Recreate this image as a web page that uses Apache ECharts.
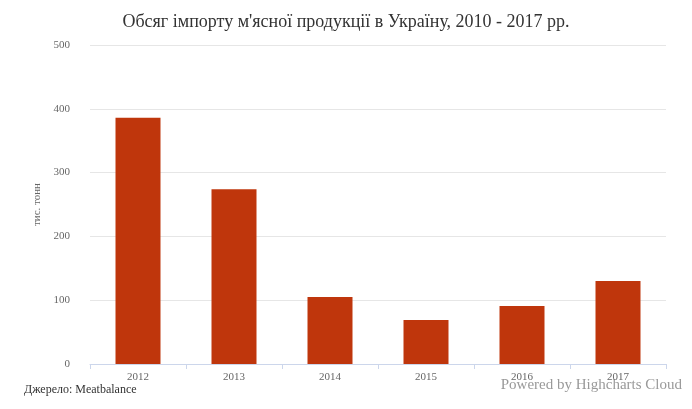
<!DOCTYPE html>
<html><head><meta charset="utf-8">
<script src="https://cdn.jsdelivr.net/npm/echarts@6/dist/echarts.min.js"></script>
<style>html,body{margin:0;padding:0;background:#fff}#c{width:692px;height:409px}</style>
</head><body><div id="c"></div>
<script>
const categories = ['2012','2013','2014','2015','2016','2017'];
const values = [386, 274, 105, 69, 91, 130];
const yTicks = [0,100,200,300,400,500];
const chart = echarts.init(document.getElementById('c'));
chart.setOption({
  animation:false,
  title:{text:"Обсяг імпорту м'ясної продукції в Україну, 2010 - 2017 рр.",left:'center',top:8,
    textStyle:{fontFamily:'Liberation Serif',fontSize:18,fontWeight:'normal',color:'#333'}},
  grid:{left:90,right:26,top:45,bottom:45},
  xAxis:{type:'category',data:categories,
    axisLine:{lineStyle:{color:'#ccd6eb'}},axisTick:{show:true,alignWithLabel:false,lineStyle:{color:'#ccd6eb'}},
    axisLabel:{fontFamily:'Liberation Serif',fontSize:11,color:'#666',margin:8}},
  yAxis:{type:'value',min:yTicks[0],max:yTicks[yTicks.length-1],interval:100,
    name:'тис. тонн',nameLocation:'middle',nameGap:46,nameRotate:90,
    nameTextStyle:{fontFamily:'Liberation Serif',fontSize:11,color:'#666'},
    axisLabel:{fontFamily:'Liberation Serif',fontSize:11,color:'#666',margin:20},
    splitLine:{lineStyle:{color:'#e6e6e6'}},axisLine:{show:false},axisTick:{show:false}},
  series:[{type:'bar',data:values,barWidth:45,itemStyle:{color:'#bf360c'}}],
  graphic:[
    {type:'text',left:24,top:384,style:{text:'Джерело: Meatbalance',font:'12px "Liberation Serif"',fill:'#333'}},
    {type:'text',right:10,top:378,style:{text:'Powered by Highcharts Cloud',font:'15px "Liberation Serif"',fill:'#999'}}
  ]
});
</script></body></html>
